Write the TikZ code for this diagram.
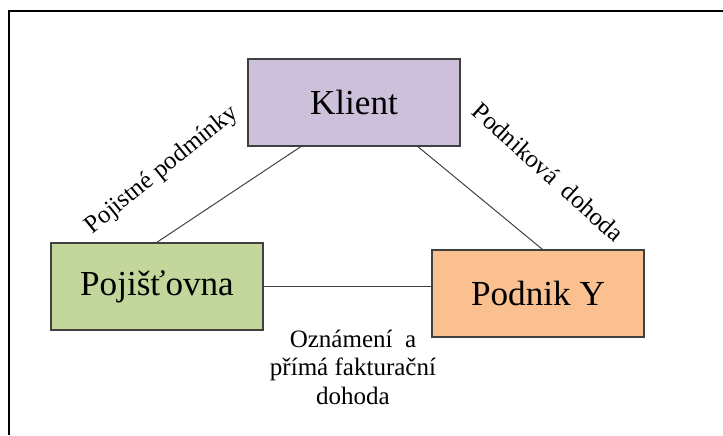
\documentclass[tikz,border=0pt]{standalone}
\usepackage{fontspec}
\setmainfont{Liberation Serif}
\usepackage{xcolor}
\usepackage{tikz}
\usetikzlibrary{calc}
\definecolor{klientpurple}{RGB}{204, 192, 218}
\definecolor{pojgreen}{RGB}{195, 214, 155}
\definecolor{podnikorange}{RGB}{250, 192, 143}
\definecolor{edgegray}{RGB}{64, 64, 64}

\begin{document}
\begin{tikzpicture}[scale=1,
  partybox/.style={draw=edgegray, line width=1.1pt, minimum width=5.3cm, minimum height=2.175cm, inner sep=0pt, font=\fontsize{25}{30}\selectfont},
  link/.style={draw=edgegray, line width=0.7pt},
  linklabel/.style={inner sep=0pt, font=\fontsize{17.8}{20.3}\selectfont}]
\useasboundingbox (0,0) rectangle (18.075,10.875);
% Frame
\draw[line width=1.4pt] (0.225,0) |- (18.075,10.6);

% Boxes
\node[partybox, fill=klientpurple] (klient) at (8.85,8.3125) {Klient};
\node[partybox, fill=pojgreen] (pojistovna) at (3.925,3.7125) {Pojišťovna};
\node[partybox, fill=podnikorange] (podnik) at (13.45,3.5375) {Podnik Y};

% Links
\draw[link] ($(klient.south west)!0.25!(klient.south east)$) -- (pojistovna.north);
\draw[link] ($(klient.south west)!0.8!(klient.south east)$) -- ($(podnik.north west)!0.52!(podnik.north east)$);
\draw[link] (pojistovna.east) -- (pojistovna.east -| podnik.west);

% Labels
\node[linklabel, rotate=39] (lblpojistne) at (4.05,6.62) {Pojistné podmínky};
\node[linklabel, rotate=-42] (lblpodnikova) at (13.71,6.57) {Podniková\ \ dohoda};
\node[linklabel, align=center] (lbloznameni) at (8.825,1.7) {Oznámení\ \ a\\přímá fakturační\\dohoda};
\end{tikzpicture}
\end{document}
